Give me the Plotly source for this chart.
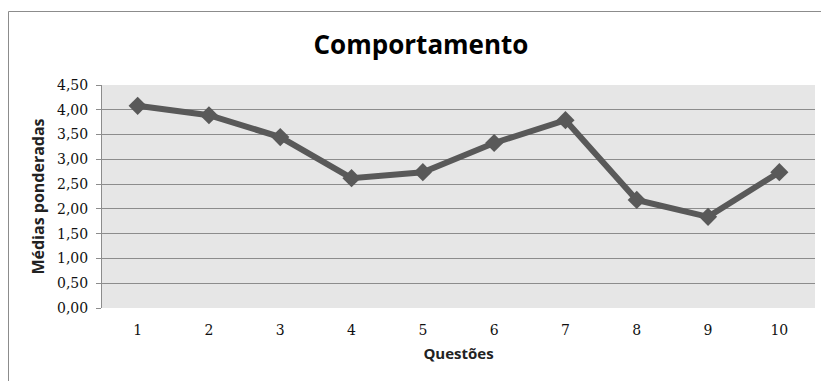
import plotly.graph_objects as go

# Weighted averages per question
questoes = ["1", "2", "3", "4", "5", "6", "7", "8", "9", "10"]
medias = [4.08, 3.89, 3.45, 2.62, 2.74, 3.33, 3.79, 2.18, 1.84, 2.74]
y_ticks = [0.0, 0.5, 1.0, 1.5, 2.0, 2.5, 3.0, 3.5, 4.0, 4.5]

W, H = 821, 381
ML, MR, MT, MB = 102, 6, 85, 73
pw = W - ML - MR
ph = H - MT - MB

fig = go.Figure()
fig.add_trace(go.Scatter(
    x=list(range(1, len(questoes) + 1)),
    y=medias,
    mode="lines+markers",
    line=dict(color="#595959", width=6),
    marker=dict(symbol="diamond", size=14, color="#595959"),
    showlegend=False,
    hoverinfo="skip",
))

# outer chart frame (top and left edges)
left_px, top_px = 8.5, 11.5
fx = (left_px - ML) / pw
fy = (H - MB - top_px) / ph
fig.add_shape(type="line", xref="paper", yref="paper",
              x0=fx, x1=1 + MR / pw, y0=fy, y1=fy,
              line=dict(color="#8c8c8c", width=1))
fig.add_shape(type="line", xref="paper", yref="paper",
              x0=fx, x1=fx, y0=fy, y1=-MB / ph,
              line=dict(color="#8c8c8c", width=1))

tick_font = dict(family="DejaVu Serif", size=14, color="#111111")
title_font_family = "Open Sans"
fig.update_layout(
    width=W, height=H,
    margin=dict(l=ML, r=MR, t=MT, b=MB),
    paper_bgcolor="white",
    plot_bgcolor="#e6e6e6",
    separators=",.",
    title=dict(text="<b>Comportamento</b>", x=421 / W, xanchor="center",
               y=1 - 45 / H, yanchor="middle",
               font=dict(family=title_font_family, size=26, color="black")),
    xaxis=dict(
        range=[0.5, len(questoes) + 0.5],
        tickvals=list(range(1, len(questoes) + 1)),
        ticktext=questoes,
        showgrid=False, zeroline=False,
        showline=False, ticks="",
        tickfont=tick_font,
        ticklabelstandoff=12,
        title=dict(text="<b>Questões</b>", standoff=11,
                   font=dict(family=title_font_family, size=15, color="#222222")),
    ),
    yaxis=dict(
        range=[0, 4.5],
        tickvals=y_ticks,
        tickformat=".2f",
        showgrid=True, gridcolor="#8c8c8c", gridwidth=1,
        zeroline=False,
        showline=True, linecolor="#8c8c8c", linewidth=1,
        ticks="outside", ticklen=5, tickcolor="#8c8c8c",
        tickfont=tick_font,
        ticklabelstandoff=5,
        title=dict(text="<b>Médias ponderadas</b>", standoff=8,
                   font=dict(family=title_font_family, size=16, color="#222222")),
    ),
)

fig.write_html("out.html")
